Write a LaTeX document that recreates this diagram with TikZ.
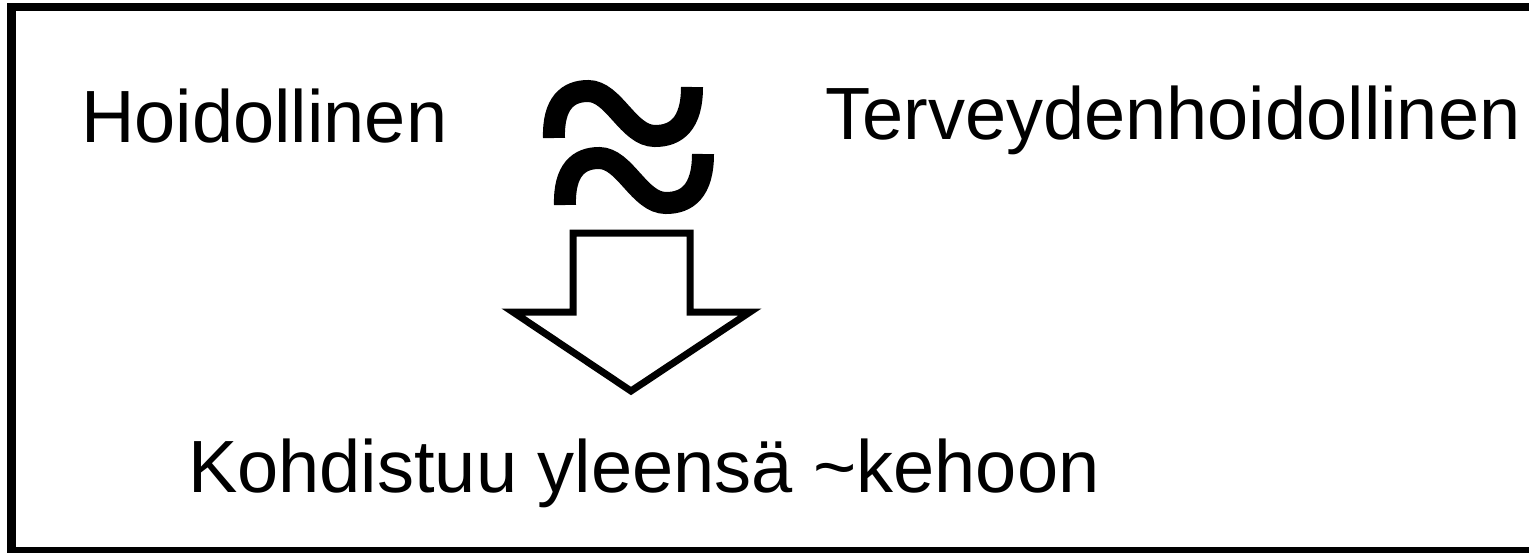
\documentclass[tikz,border=0pt]{standalone}
\usepackage{fontspec}
\setmainfont{Liberation Sans}
\begin{document}
\begin{tikzpicture}[x=1pt,y=-1pt,
  lbl/.style={inner sep=0pt,anchor=base west,font=\fontsize{74}{88}\selectfont},
  wave/.style={line width=22pt,line cap=butt,black},
  bigarrow/.style={line width=7pt,line join=miter,draw=black,fill=white}]
\useasboundingbox (0,0) rectangle (1529,552);
\clip (0,0) rectangle (1529,552);
\draw[line width=8.5pt,line join=miter] (1560,7) -- (11.5,7) -- (11.5,551) -- (1560,551);
\node[lbl] (hoid) at (81,142) {Hoidollinen};
\node[lbl] (terv) at (825,139) {Terveydenhoidollinen};
\node[lbl] (koh) at (188,492) {Kohdistuu yleensä \char`\~kehoon};
% tildes
\draw[wave] (554,138) .. controls (553,103) and (568,91) .. (588,91)
  .. controls (614,91) and (628,136) .. (655,136)
  .. controls (676,136) and (692,124) .. (692,87);
\begin{scope}[shift={(11,67)}]
\draw[wave] (554,138) .. controls (553,103) and (568,91) .. (588,91)
  .. controls (614,91) and (628,136) .. (655,136)
  .. controls (676,136) and (692,124) .. (692,87);
\end{scope}
% arrow
\draw[bigarrow] (573,233) -- (690,233) -- (690,312) -- (750,312) -- (631,391) -- (513,312) -- (573,312) -- cycle;
\end{tikzpicture}
\end{document}
